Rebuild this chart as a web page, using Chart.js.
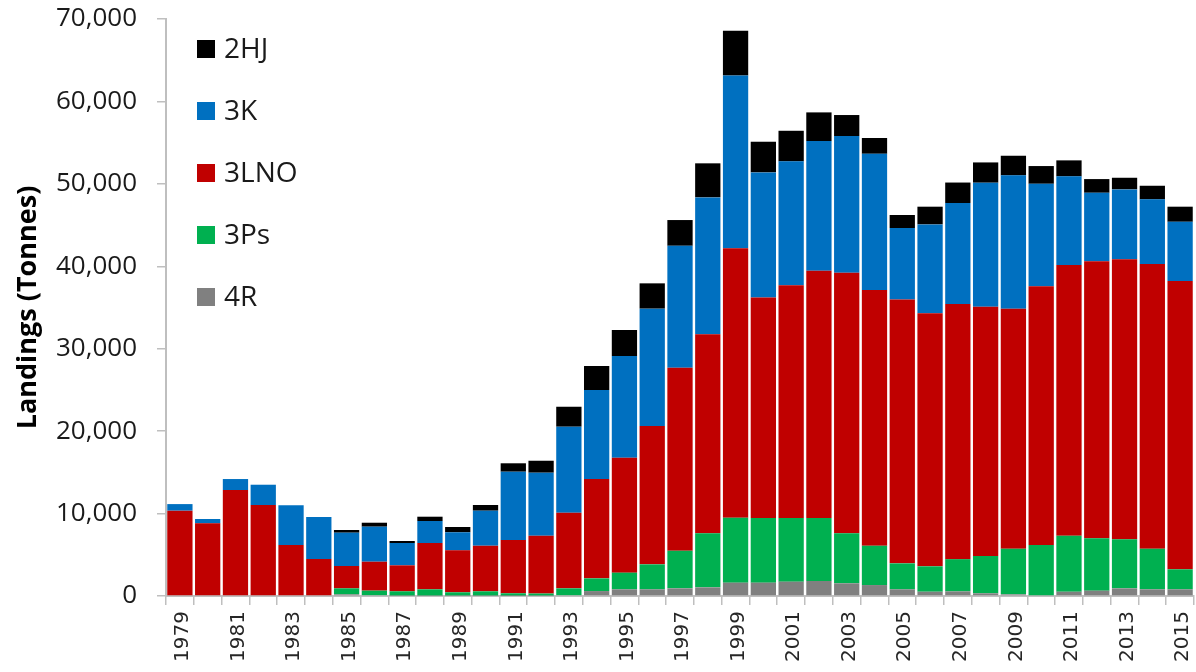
<!DOCTYPE html>
<html>
<head>
<meta charset="utf-8">
<script src="https://cdn.jsdelivr.net/npm/chart.js@4/dist/chart.umd.min.js"></script>
<style>
  html, body { margin: 0; padding: 0; background: #fff; }
  #wrap { width: 1196px; height: 672px; }
</style>
</head>
<body>
<div id="wrap"><canvas id="c" width="1196" height="672"></canvas></div>
<script>
const years = ['1979','1980','1981','1982','1983','1984','1985','1986','1987','1988','1989','1990','1991','1992','1993','1994','1995','1996','1997','1998','1999','2000','2001','2002','2003','2004','2005','2006','2007','2008','2009','2010','2011','2012','2013','2014','2015'];
const landings4R  = [0,0,0,0,0,0,200,100,50,50,50,50,30,50,100,600,810,810,930,1050,1620,1620,1740,1820,1540,1330,810,520,560,330,200,80,520,650,930,810,810];
const landings3Ps = [0,0,0,0,0,0,730,550,520,760,400,520,300,250,830,1540,2020,3030,4570,6570,7860,7840,7720,7640,6060,4770,3150,3080,3910,4520,5540,6110,6800,6350,5950,4930,2430];
const landings3LNO = [10350,8815,12860,11040,6190,4490,2710,3510,3150,5620,5090,5530,6450,7020,9180,12050,13950,16780,22200,24120,32700,26750,28230,30000,31620,31020,32020,30690,30950,30250,29120,31380,32830,33600,33960,34530,34970];
const landings3K  = [800,525,1330,2460,4810,5090,4040,4250,2710,2670,2190,4250,8300,7640,10430,10800,12330,14240,14790,16620,20980,15180,15040,15730,16580,16530,8660,10790,12260,15040,16170,12440,10760,8320,8490,7850,7190];
const landings2HJ = [0,0,0,0,0,0,330,480,240,520,640,690,1020,1450,2420,2910,3160,3070,3120,4130,5410,3720,3710,3480,2550,1910,1580,2150,2480,2460,2380,2150,1940,1660,1410,1650,1830];
const yTicks = [0,10000,20000,30000,40000,50000,60000,70000];

const seriesNames = ['4R','3Ps','3LNO','3K','2HJ'];
const seriesData = [landings4R, landings3Ps, landings3LNO, landings3K, landings2HJ];
const seriesColors = ['#808080','#00B050','#C00000','#0070C0','#000000'];

const datasets = seriesNames.map((n, i) => ({
  label: n,
  data: seriesData[i],
  backgroundColor: seriesColors[i],
  borderWidth: 0,
  barPercentage: 0.91,
  categoryPercentage: 1.0
}));

const insideLegend = {
  id: 'insideLegend',
  afterDraw(chart) {
    const ctx = chart.ctx;
    ctx.save();
    ctx.font = '28px "Open Sans"';
    ctx.textBaseline = 'middle';
    ctx.textAlign = 'left';
    const ds = chart.data.datasets.slice().reverse();
    ds.forEach((d, k) => {
      const cy = 49 + 62 * k;
      ctx.fillStyle = d.backgroundColor;
      ctx.fillRect(197, cy - 9, 18, 18);
      ctx.fillStyle = '#1a1a1a';
      ctx.fillText(d.label, 224, cy + 1);
    });
    ctx.restore();
  }
};

new Chart(document.getElementById('c'), {
  type: 'bar',
  data: { labels: years, datasets },
  plugins: [insideLegend],
  options: {
    responsive: false,
    animation: false,
    devicePixelRatio: 1,
    layout: { padding: { top: 19, right: 2, bottom: 0, left: 0 } },
    plugins: { legend: { display: false }, tooltip: { enabled: false } },
    scales: {
      x: {
        stacked: true,
        offset: true,
        grid: { display: true, offset: true, drawOnChartArea: false, drawTicks: true, tickLength: 9, color: '#BFBFBF', lineWidth: 1.5 },
        border: { display: true, color: '#BFBFBF', width: 2 },
        ticks: {
          autoSkip: false,
          minRotation: 90,
          maxRotation: 90,
          padding: 6,
          labelOffset: 3,
          color: '#262626',
          font: { family: '"DejaVu Sans"', size: 20 },
          callback: function(v, i) { return i % 2 === 0 ? years[i] : ''; }
        },
        afterFit(scale) { scale.height = 76; scale.paddingLeft = 0; scale.paddingRight = 0; }
      },
      y: {
        stacked: true,
        min: 0,
        max: 70000,
        afterBuildTicks(scale) { scale.ticks = yTicks.map(v => ({ value: v })); },
        grid: { display: true, drawOnChartArea: false, drawTicks: true, tickLength: 9, color: '#BFBFBF', lineWidth: 1.5 },
        border: { display: true, color: '#BFBFBF', width: 2 },
        ticks: {
          padding: 20,
          color: '#1a1a1a',
          font: { family: '"Open Sans"', size: 26 },
          callback: v => v.toLocaleString('en-US')
        },
        title: {
          display: true,
          text: 'Landings (Tonnes)',
          color: '#000',
          font: { family: '"Open Sans"', size: 27, weight: 'bold' },
          padding: { top: 12, bottom: 0 }
        },
        afterFit(scale) { scale.width = 166; scale.paddingTop = 0; scale.paddingBottom = 0; }
      }
    }
  }
});
</script>
</body>
</html>
